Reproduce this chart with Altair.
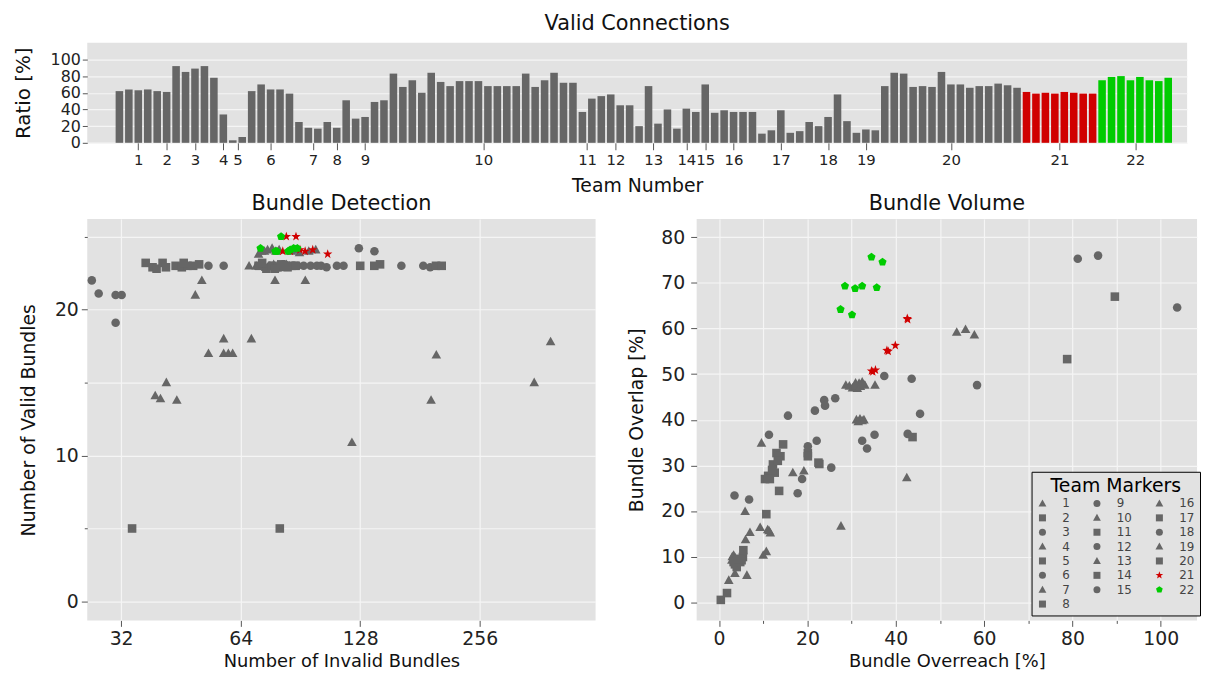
import altair as alt
import pandas as pd

FONT = "DejaVu Sans"
BG = "#e2e2e2"
GRAY = "#666666"
RED = "#d00000"
GREEN = "#00cc00"

# ---------------- Valid Connections (one bar per submission) ----------------
TEAM_SIZES = [5, 1, 5, 1, 2, 5, 4, 1, 5, 20, 2, 4, 4, 3, 1, 5, 5, 5, 3, 15, 8, 8]
RATIO = [
    62, 64, 63, 64, 62,                      # 1
    61,                                      # 2
    92, 85, 89, 92, 78,                      # 3
    34,                                      # 4
    3, 7,                                    # 5
    62, 70, 64, 64, 59,                      # 6
    25, 18, 17, 25,                          # 7
    18,                                      # 8
    51, 29, 31, 49, 51,                      # 9
    83, 67, 75, 60, 84, 73, 68, 74, 74, 74,  # 10
    68, 68, 68, 68, 83, 67, 75, 84, 72, 72,
    37, 53,                                  # 11
    56, 58, 45, 45,                          # 12
    20, 68, 23, 40,                          # 13
    17, 41, 37,                              # 14
    70,                                      # 15
    36, 39, 37, 37, 37,                      # 16
    11, 15, 39, 12, 14,                      # 17
    25, 20, 31, 58, 26,                      # 18
    12, 16, 15,                              # 19
    68, 84, 83, 67, 68, 67, 85, 70, 70, 66,  # 20
    68, 68, 71, 69, 66,
    61, 59, 60, 59, 61, 60, 59, 59,          # 21
    75, 79, 80, 75, 79, 75, 74, 78,          # 22
]

# ---------------- Bundle Detection (per team) ----------------
DET_INVALID = [
    [351, 386, 193, 199, 122],
    [34.1],
    [27, 28.1, 31, 32.1, 31],
    [67.2],
    [80.3, 128],
    [53.1, 58, 127, 139, 162.5],
    [39, 40.2, 41.6, 44.2],
    [36.9],
    [184.5, 192, 87, 92.2, 96],
    [71, 73.5, 76.8, 98.9, 78.1, 93.1, 70, 72, 74, 75.5, 77.5, 79, 80.5, 82, 83.5, 85, 72.3, 74.8, 78.5, 80],
    [138.9, 143.6],
    [99.6, 105.3, 111.8, 116.2],
    [49.2, 51.1, 53.1, 58],
    [198.6, 205.3, 38.4],
    [102],
    [58, 59.6, 61.1, 68.1, 86],
    [39.3, 40.7, 43.9, 45.5, 47],
    [76, 80, 82, 84, 89],
    [88, 90, 95],
    [48.6, 50.3, 71, 74.3, 76.8, 79.5, 82.2, 85.9, 72.5, 78, 81, 84, 88, 46, 41.5],
    [83.4, 88.2, 81.7, 93, 97.2, 106, 85.3, 90.3],
    [80.9, 71.8, 78.2, 79, 84.3, 85.3, 87, 88.9],
]
DET_VALID = [
    [15.0, 17.8, 13.8, 16.9, 10.9],
    [5.0],
    [22.0, 21.1, 21.0, 21.0, 19.1],
    [23.0],
    [5.0, 23.0],
    [23.0, 23.0, 24.2, 24.0, 23.0],
    [14.1, 13.9, 15.0, 13.8],
    [23.2],
    [23.0, 22.9, 23.0, 23.0, 23.0],
    [23.8, 24.0, 24.2, 24.1, 22.0, 22.0, 23.0, 23.1, 22.9, 23.0, 23.1, 23.0, 22.9, 23.0, 23.1, 23.0, 24.0, 24.1, 24.0, 24.1],
    [23.0, 23.1],
    [23.0, 22.9, 23.0, 23.0],
    [21.0, 22.0, 17.0, 18.0],
    [23.0, 23.0, 22.9],
    [23.0],
    [17.0, 17.0, 17.0, 18.0, 24.0],
    [22.8, 23.2, 23.0, 22.9, 23.0],
    [23.0, 22.9, 23.1, 23.0, 23.0],
    [24.1, 23.9, 24.0],
    [23.0, 23.1, 23.0, 22.8, 23.0, 22.9, 23.0, 23.0, 23.2, 22.8, 23.1, 22.9, 23.0, 23.2, 22.9],
    [25.0, 25.0, 24.0, 24.0, 24.1, 23.8, 24.0, 24.1],
    [25.0, 24.2, 24.0, 24.0, 24.0, 24.1, 24.2, 24.2],
]

# ---------------- Bundle Volume (per team) ----------------
VOL_OVERREACH = [
    [53.8, 55.8, 57.8, 42.5, 27.6],
    [0.4],
    [81.2, 85.8, 103.7, 58.4, 45.5],
    [9.6],
    [1.8, 10.7],
    [43.6, 37.4, 42.7, 32.4, 33.5],
    [16.7, 19.2, 31.1, 32.4],
    [43.8],
    [35.2, 23.8, 24.0, 26.3, 21.7],
    [28.7, 30.6, 31.7, 32.4, 31.3, 35.3, 29.5, 30.2, 31.0, 32.0, 33.0, 30.9, 31.9, 31.5, 32.8, 5.9, 7.0, 9.3, 11.3, 11.6],
    [89.6, 78.8],
    [15.6, 22.1, 20.1, 25.4],
    [6.0, 10.7, 10.0, 11.0],
    [20.1, 20.1, 22.5],
    [18.8],
    [3.3, 2.9, 3.6, 3.0, 3.4],
    [22.7, 5.5, 5.4, 4.8, 3.6],
    [17.8, 11.3, 3.5, 6.8, 32.4],
    [3.6, 6.3, 2.2],
    [14.5, 13.0, 13.9, 12.2, 12.6, 11.1, 10.4, 11.5, 13.6, 4.0, 5.1, 3.3, 12.0, 13.3, 4.5],
    [42.6, 39.9, 38.0, 34.5, 35.4, 38.3, 34.8, 42.7],
    [34.5, 37.0, 28.5, 30.8, 32.4, 35.7, 27.5, 30.1],
]
VOL_OVERLAP = [
    [59.2, 59.8, 58.6, 27.3, 16.7],
    [0.5],
    [75.3, 76.0, 64.6, 47.6, 41.3],
    [34.9],
    [2.0, 19.3],
    [49.0, 49.6, 36.9, 35.4, 33.7],
    [28.4, 28.8, 40.0, 39.8],
    [36.2],
    [36.7, 44.3, 43.1, 44.7, 42.0],
    [47.6, 47.2, 48.0, 48.3, 46.9, 47.6, 47.4, 47.0, 47.5, 47.3, 47.6, 48.1, 40.2, 39.6, 40.0, 19.9, 15.3, 16.4, 15.7, 15.2],
    [67.0, 53.3],
    [40.9, 35.4, 34.2, 29.5],
    [13.7, 11.1, 10.3, 15.9],
    [32.7, 32.0, 30.6],
    [27.0],
    [10.3, 9.2, 9.8, 10.0, 9.5],
    [30.3, 11.4, 9.9, 8.8, 8.3],
    [23.9, 36.7, 23.4, 22.5, 47.7],
    [6.3, 5.9, 4.8],
    [34.6, 32.7, 32.0, 30.2, 28.4, 27.7, 27.0, 27.0, 24.4, 7.7, 9.2, 8.8, 29.0, 31.0, 9.5],
    [62.2, 56.3, 55.2, 50.7, 50.9, 55.0, 50.5, 62.0],
    [75.7, 74.6, 69.3, 68.8, 69.3, 69.0, 64.2, 63.0],
]

# ---------------- team styling ----------------
TRIANGLE = "M0,-1.15L1.12,0.85L-1.12,0.85Z"
STAR = ("M0,-1.15L0.27,-0.37L1.09,-0.355L0.437,0.143L0.676,0.93L0,0.46"
        "L-0.676,0.93L-0.437,0.143L-1.09,-0.355L-0.27,-0.37Z")
PENTAGON = "M0,-1L0.951,-0.309L0.588,0.809L-0.588,0.809L-0.951,-0.309Z"
BASE_SHAPES = [TRIANGLE, "square", "circle"]


def team_shape(t):
    if t == 21:
        return STAR
    if t == 22:
        return PENTAGON
    return BASE_SHAPES[(t - 1) % 3]


def team_color(t):
    return RED if t == 21 else GREEN if t == 22 else GRAY


# domain order chosen so that Vega's 3-column legend shows 1-8 | 9-15 | 16-22
LEGEND_ORDER = [1, 2, 3, 4, 5, 6, 7, 22, 9, 10, 11, 12, 13, 14, 15, 8, 16, 17, 18, 19, 20, 21]
TEAM_DOMAIN = [str(t) for t in LEGEND_ORDER]
SHAPE_RANGE = [team_shape(t) for t in LEGEND_ORDER]
COLOR_RANGE = [team_color(t) for t in LEGEND_ORDER]

# ---------------- data frames ----------------
bar_team = []
centers = []
start = 0
for t, n in enumerate(TEAM_SIZES, start=1):
    bar_team += [str(t)] * n
    centers.append((start + start + n - 1) / 2)
    start += n
bars = pd.DataFrame({"idx": list(range(len(RATIO))), "team": bar_team, "ratio": RATIO})


def flatten(xs, ys, xname, yname):
    rows = []
    for t in range(1, 23):
        for x, y in zip(xs[t - 1], ys[t - 1]):
            rows.append({"team": str(t), xname: x, yname: y})
    return pd.DataFrame(rows)


det = flatten(DET_INVALID, DET_VALID, "invalid", "valid")
vol = flatten(VOL_OVERREACH, VOL_OVERLAP, "overreach", "overlap")

color_scale = alt.Scale(domain=TEAM_DOMAIN, range=COLOR_RANGE)
shape_scale = alt.Scale(domain=TEAM_DOMAIN, range=SHAPE_RANGE)

values_js = "[" + ",".join(repr(float(c)) for c in centers) + "]"


def minor_ticks(step):
    return {"condition": {"test": f"datum.value % {step} === 0", "value": 6}, "value": 3}


top = (
    alt.Chart(bars)
    .transform_calculate(x0="datum.idx - 0.4", x1="datum.idx + 0.4", zero="0")
    .mark_bar()
    .encode(
        x=alt.X(
            "x0:Q",
            scale=alt.Scale(domain=[-3.4, 113.0], nice=False, zero=False),
            axis=alt.Axis(
                values=[float(c) for c in centers],
                labelExpr=f"indexof({values_js}, datum.value) + 1",
                title="Team Number", grid=False, labelOverlap=False, labelFlush=False,
                tickSize=7, labelFontSize=15, labelPadding=3, titleFontSize=19, titlePadding=9,
            ),
        ),
        x2="x1:Q",
        y=alt.Y(
            "ratio:Q",
            scale=alt.Scale(domain=[0, 120], nice=False),
            axis=alt.Axis(
                values=[0, 20, 40, 60, 80, 100], title="Ratio [%]", labelOverlap=False,
                labelFontSize=16, labelPadding=2, tickSize=5, titleFontSize=20, titlePadding=17,
                labelFlush=False,
            ),
        ),
        y2="zero:Q",
        color=alt.Color("team:N", scale=color_scale, legend=None),
    )
    .properties(width=1110, height=101,
                title=alt.TitleParams("Valid Connections", fontSize=21, offset=9))
)

detection = (
    alt.Chart(det)
    .mark_point(filled=True, size=75, opacity=1, strokeWidth=0)
    .encode(
        x=alt.X(
            "invalid:Q",
            scale=alt.Scale(type="log", base=2, domain=[26.3, 501], nice=False),
            axis=alt.Axis(values=[32, 64, 128, 256], format="d", title="Number of Invalid Bundles",
                          labelFontSize=19, labelPadding=3, tickSize=6, titleFontSize=18,
                          titlePadding=5, labelFlush=False),
        ),
        y=alt.Y(
            "valid:Q",
            scale=alt.Scale(domain=[-1.3, 26.2], nice=False, zero=False),
            axis=alt.Axis(values=[0, 5, 10, 15, 20, 25],
                          labelExpr="datum.value % 10 === 0 ? datum.label : ''",
                          title="Number of Valid Bundles", labelFontSize=19, labelPadding=3,
                          tickSize=minor_ticks(10), titleFontSize=19, titlePadding=16,
                          labelFlush=False),
        ),
        shape=alt.Shape("team:N", scale=shape_scale, legend=None),
        color=alt.Color("team:N", scale=color_scale, legend=None),
    )
    .properties(width=513, height=405,
                title=alt.TitleParams("Bundle Detection", fontSize=21, offset=5))
)

legend = alt.Legend(
    title="Team Markers", orient="none", legendX=338, legendY=255, columns=3,
    fillColor=BG, strokeColor="black", padding=5,
    titleFontSize=19, titleFontWeight="normal", titleColor="black", titleAnchor="middle",
    titlePadding=2, labelFontSize=12, labelColor="#444444", labelOffset=14,
    symbolSize=50, symbolStrokeWidth=0, columnPadding=21, rowPadding=2.5,
)

volume = (
    alt.Chart(vol)
    .mark_point(filled=True, size=75, opacity=1, strokeWidth=0)
    .encode(
        x=alt.X(
            "overreach:Q",
            scale=alt.Scale(domain=[-5.07, 108.2], nice=False, zero=False),
            axis=alt.Axis(values=list(range(0, 101, 10)),
                          labelExpr="datum.value % 20 === 0 ? datum.label : ''",
                          title="Bundle Overreach [%]", labelFontSize=19, labelPadding=3,
                          tickSize=minor_ticks(20), titleFontSize=18, titlePadding=5,
                          labelFlush=False),
        ),
        y=alt.Y(
            "overlap:Q",
            scale=alt.Scale(domain=[-4, 84], nice=False, zero=False),
            axis=alt.Axis(values=list(range(0, 81, 10)), title="Bundle Overlap [%]",
                          labelFontSize=19, labelPadding=6, tickSize=6, titleFontSize=19,
                          titlePadding=14, labelFlush=False),
        ),
        shape=alt.Shape("team:N", scale=shape_scale, legend=legend),
        color=alt.Color("team:N", scale=color_scale, legend=legend),
    )
    .properties(width=505, height=405,
                title=alt.TitleParams("Bundle Volume", fontSize=21, offset=5))
)

bottom = alt.hconcat(detection, volume, spacing=102, bounds="flush").resolve_scale(
    color="independent", shape="independent"
)

chart = (
    alt.vconcat(top, bottom, spacing=77, bounds="flush")
    .resolve_scale(color="independent", shape="independent")
    .properties(padding={"left": 5, "top": 2, "right": 0, "bottom": -2})
    .configure(font=FONT)
    .configure_view(fill=BG, stroke=None)
    .configure_axis(
        gridColor="#f5f5f5", gridWidth=1.2, domain=False, tickColor="#555555",
        labelColor="#222222", titleColor="#111111", titleFontWeight="normal",
        labelFont=FONT, titleFont=FONT,
    )
    .configure_title(font=FONT, fontWeight="normal", color="#111111", anchor="middle")
    .configure_legend(labelFont=FONT, titleFont=FONT)
)

chart.save("out.html", embed_options={"renderer": "svg", "actions": False})
